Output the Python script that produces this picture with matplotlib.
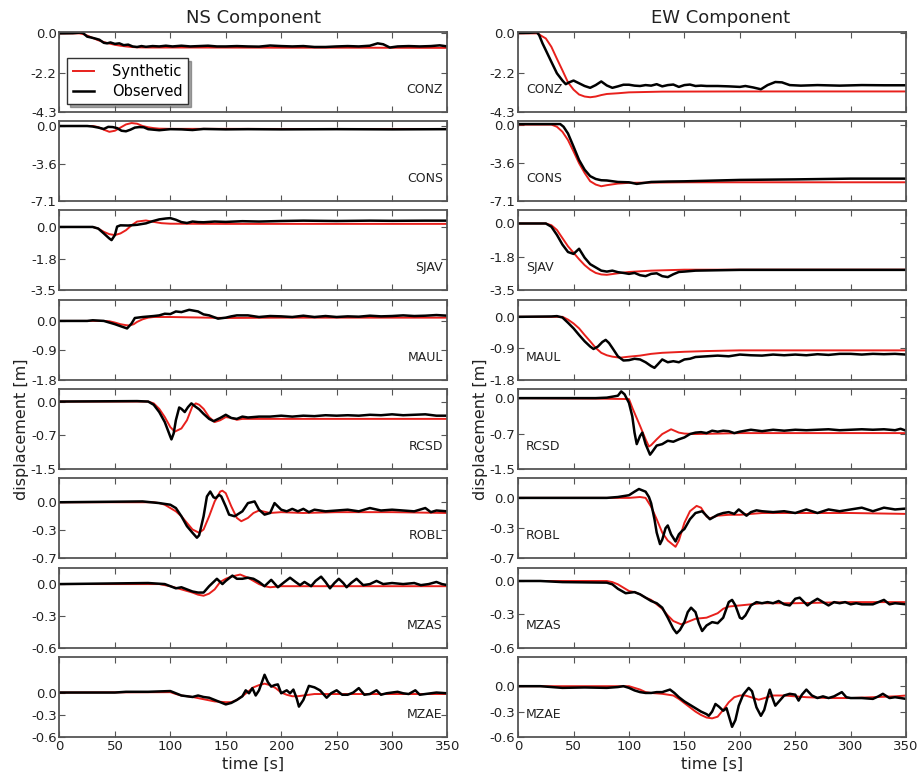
import matplotlib
matplotlib.use('Agg')
import matplotlib.pyplot as plt
from matplotlib.ticker import FormatStrFormatter

stations = ['CONZ', 'CONS', 'SJAV', 'MAUL', 'RCSD', 'ROBL', 'MZAS', 'MZAE']
components = ['NS Component', 'EW Component']
y_bottom = [-4.32, -7.12, -3.52, -1.8, -1.48, -0.68, -0.6, -0.6]
y_top_ns = [0.09, 0.47, 0.92, 0.65, 0.275, 0.29, 0.155, 0.48]
y_top_ew = [0.09, 0.33, 0.69, 0.49, 0.19, 0.22, 0.12, 0.345]
x_ticks = [0, 50, 100, 150, 200, 250, 300, 350]

# (time [s], displacement [m]) pairs
conz_ns_syn = [(0,0),(18,0),(22,-0.05),(25,-0.12),(30,-0.25),(35,-0.38),(40,-0.48),(45,-0.56),(50,-0.63),(55,-0.68),(60,-0.72),(65,-0.75),(70,-0.77),(80,-0.78),(120,-0.78),(200,-0.79),(260,-0.79),(350,-0.8)]
conz_ns_obs = [(0,0),(12,0.01),(18,0.04),(21,0.03),(25,-0.18),(28,-0.22),(32,-0.28),(36,-0.35),(40,-0.52),(43,-0.55),(46,-0.5),(50,-0.58),(54,-0.55),(58,-0.65),(62,-0.62),(66,-0.72),(70,-0.75),(74,-0.7),(78,-0.74),(84,-0.7),(90,-0.72),(96,-0.68),(102,-0.72),(110,-0.68),(118,-0.72),(126,-0.7),(134,-0.68),(142,-0.72),(150,-0.72),(160,-0.7),(170,-0.72),(180,-0.73),(190,-0.67),(200,-0.7),(210,-0.72),(220,-0.7),(230,-0.75),(240,-0.75),(250,-0.72),(260,-0.7),(270,-0.72),(280,-0.68),(287,-0.55),(292,-0.6),(298,-0.78),(305,-0.72),(315,-0.7),(325,-0.72),(335,-0.7),(343,-0.66),(350,-0.72)]
conz_ew_syn = [(0,0),(18,0),(20,-0.1),(25,-0.28),(30,-0.74),(35,-1.4),(40,-2.04),(45,-2.7),(50,-3.1),(55,-3.37),(60,-3.48),(65,-3.52),(70,-3.48),(75,-3.4),(80,-3.34),(90,-3.3),(100,-3.25),(130,-3.21),(200,-3.2),(350,-3.2)]
conz_ew_obs = [(0,0.02),(10,0.03),(15,0.05),(17,0.06),(19,-0.1),(22,-0.55),(25,-0.93),(30,-1.57),(35,-2.2),(40,-2.6),(43,-2.8),(46,-2.7),(50,-2.6),(55,-2.75),(60,-2.9),(65,-3.0),(70,-2.85),(75,-2.65),(80,-2.87),(85,-3.0),(90,-2.92),(95,-2.83),(100,-2.83),(105,-2.88),(110,-2.9),(115,-2.85),(120,-2.88),(125,-2.8),(130,-2.92),(135,-2.85),(140,-2.82),(145,-2.95),(150,-2.85),(155,-2.82),(160,-2.9),(165,-2.88),(170,-2.9),(180,-2.9),(190,-2.92),(200,-2.95),(205,-2.9),(212,-2.98),(219,-3.08),(225,-2.85),(232,-2.68),(238,-2.7),(245,-2.85),(255,-2.88),(270,-2.85),(290,-2.88),(310,-2.85),(330,-2.86),(350,-2.86)]

cons_ns_syn = [(0,0),(30,0),(35,-0.1),(40,-0.35),(45,-0.55),(50,-0.45),(55,-0.15),(60,0.15),(65,0.28),(70,0.22),(75,0.0),(80,-0.12),(85,-0.2),(90,-0.25),(100,-0.27),(150,-0.27),(200,-0.28),(350,-0.28)]
cons_ns_obs = [(0,0),(25,0),(30,-0.05),(35,-0.15),(40,-0.28),(44,-0.08),(48,-0.1),(52,-0.2),(56,-0.45),(60,-0.5),(64,-0.35),(68,-0.15),(72,-0.1),(76,-0.12),(80,-0.3),(85,-0.35),(90,-0.4),(95,-0.35),(100,-0.3),(110,-0.32),(120,-0.38),(130,-0.28),(140,-0.3),(150,-0.32),(170,-0.3),(200,-0.32),(250,-0.3),(300,-0.32),(350,-0.3)]
cons_ew_syn = [(0,0),(30,0),(35,-0.2),(40,-0.67),(45,-1.44),(50,-2.5),(55,-3.6),(60,-4.5),(65,-5.27),(70,-5.58),(75,-5.74),(80,-5.64),(90,-5.49),(100,-5.42),(150,-5.37),(350,-5.37)]
cons_ew_obs = [(0,0.05),(38,0.05),(41,-0.2),(45,-0.83),(50,-2.05),(55,-3.3),(60,-4.2),(65,-4.8),(70,-5.06),(75,-5.18),(80,-5.2),(90,-5.34),(100,-5.37),(107,-5.52),(112,-5.45),(120,-5.34),(135,-5.3),(150,-5.28),(200,-5.15),(250,-5.1),(300,-5.03),(350,-5.03)]

sjav_ns_syn = [(0,0),(30,0),(35,-0.09),(40,-0.27),(45,-0.4),(50,-0.45),(55,-0.36),(60,-0.18),(65,0.09),(70,0.3),(78,0.36),(85,0.28),(92,0.21),(100,0.18),(150,0.17),(250,0.17),(350,0.17)]
sjav_ns_obs = [(0,0),(30,0),(35,-0.09),(40,-0.36),(45,-0.64),(47,-0.73),(50,-0.45),(52,0.02),(55,0.09),(62,0.08),(70,0.12),(78,0.2),(84,0.32),(90,0.42),(96,0.47),(100,0.49),(105,0.4),(110,0.27),(115,0.22),(120,0.3),(125,0.27),(130,0.26),(140,0.3),(150,0.28),(165,0.32),(180,0.3),(200,0.33),(220,0.35),(250,0.33),(280,0.35),(300,0.34),(330,0.35),(350,0.35)]
sjav_ew_syn = [(0,0),(25,0),(30,-0.09),(35,-0.34),(40,-0.77),(45,-1.2),(50,-1.54),(55,-1.88),(60,-2.19),(65,-2.43),(70,-2.6),(75,-2.68),(80,-2.7),(90,-2.62),(100,-2.55),(120,-2.48),(150,-2.43),(350,-2.43)]
sjav_ew_obs = [(0,0),(25,0),(30,-0.17),(35,-0.6),(40,-1.11),(45,-1.5),(50,-1.6),(55,-1.33),(60,-1.8),(65,-2.14),(70,-2.31),(75,-2.48),(80,-2.53),(85,-2.48),(90,-2.56),(95,-2.6),(100,-2.65),(105,-2.6),(110,-2.72),(115,-2.77),(120,-2.65),(125,-2.62),(130,-2.77),(135,-2.82),(140,-2.67),(145,-2.55),(150,-2.53),(160,-2.48),(180,-2.46),(200,-2.44),(250,-2.44),(300,-2.44),(350,-2.44)]

maul_ns_syn = [(0,0),(40,0),(45,-0.01),(50,-0.05),(55,-0.1),(60,-0.13),(63,-0.14),(67,-0.1),(70,-0.03),(75,0.05),(80,0.1),(85,0.12),(100,0.12),(150,0.09),(200,0.1),(350,0.1)]
maul_ns_obs = [(0,0),(25,0),(30,0.02),(40,0.0),(45,-0.05),(50,-0.1),(55,-0.16),(61,-0.23),(65,-0.08),(68,0.09),(75,0.12),(85,0.15),(90,0.17),(95,0.22),(100,0.21),(105,0.29),(110,0.27),(117,0.34),(125,0.29),(130,0.2),(135,0.17),(143,0.07),(150,0.1),(155,0.14),(160,0.17),(170,0.17),(180,0.12),(190,0.15),(200,0.14),(210,0.12),(220,0.16),(230,0.12),(240,0.15),(250,0.12),(260,0.14),(270,0.13),(280,0.16),(290,0.14),(300,0.15),(310,0.17),(320,0.15),(330,0.16),(340,0.18),(350,0.16)]
maul_ew_syn = [(0,0),(40,0),(45,-0.08),(50,-0.19),(55,-0.33),(60,-0.52),(65,-0.7),(70,-0.89),(75,-1.03),(80,-1.1),(85,-1.14),(92,-1.17),(100,-1.14),(110,-1.11),(120,-1.06),(130,-1.03),(150,-1.0),(170,-0.98),(200,-0.96),(350,-0.96)]
maul_ew_obs = [(0,0),(30,0.01),(35,0.02),(40,-0.02),(45,-0.17),(50,-0.33),(55,-0.52),(60,-0.7),(65,-0.85),(68,-0.92),(72,-0.85),(76,-0.72),(79,-0.66),(82,-0.75),(85,-0.89),(90,-1.13),(95,-1.25),(100,-1.24),(105,-1.2),(110,-1.22),(115,-1.3),(120,-1.41),(123,-1.46),(126,-1.36),(130,-1.22),(135,-1.3),(140,-1.27),(145,-1.3),(150,-1.22),(155,-1.2),(160,-1.15),(170,-1.13),(180,-1.11),(190,-1.13),(200,-1.08),(210,-1.1),(220,-1.11),(230,-1.08),(240,-1.1),(250,-1.08),(260,-1.1),(270,-1.07),(280,-1.09),(290,-1.06),(300,-1.06),(310,-1.08),(320,-1.06),(330,-1.07),(340,-1.06),(350,-1.08)]

rcsd_ns_syn = [(0,0),(80,0),(85,-0.04),(90,-0.16),(95,-0.34),(100,-0.56),(104,-0.66),(110,-0.59),(115,-0.41),(120,-0.1),(123,-0.04),(126,-0.07),(130,-0.16),(135,-0.34),(140,-0.45),(145,-0.41),(150,-0.34),(155,-0.36),(160,-0.4),(165,-0.38),(200,-0.38),(350,-0.38)]
rcsd_ns_obs = [(0,0),(70,0.01),(80,0.0),(85,-0.07),(90,-0.23),(95,-0.45),(100,-0.77),(101,-0.83),(103,-0.7),(105,-0.41),(108,-0.13),(110,-0.16),(113,-0.23),(116,-0.12),(119,-0.04),(122,-0.1),(126,-0.17),(130,-0.27),(135,-0.38),(139,-0.43),(145,-0.36),(150,-0.29),(155,-0.36),(160,-0.38),(165,-0.33),(170,-0.35),(180,-0.33),(190,-0.33),(200,-0.31),(210,-0.33),(220,-0.31),(230,-0.32),(240,-0.3),(250,-0.31),(260,-0.3),(270,-0.31),(280,-0.29),(290,-0.3),(300,-0.28),(310,-0.3),(320,-0.29),(330,-0.28),(340,-0.31),(350,-0.31)]
rcsd_ew_syn = [(0,0),(70,-0.01),(100,-0.02),(103,-0.2),(105,-0.31),(110,-0.58),(115,-0.86),(118,-1.01),(120,-0.98),(125,-0.86),(130,-0.75),(138,-0.65),(145,-0.72),(150,-0.74),(160,-0.75),(200,-0.73),(350,-0.73)]
rcsd_ew_obs = [(0,0),(70,0),(80,0.01),(90,0.05),(93,0.14),(96,0.08),(100,-0.1),(103,-0.38),(105,-0.72),(107,-0.96),(110,-0.79),(112,-0.72),(115,-0.96),(119,-1.18),(121,-1.12),(125,-0.99),(130,-0.96),(135,-0.89),(140,-0.91),(145,-0.86),(150,-0.82),(155,-0.75),(160,-0.72),(165,-0.71),(170,-0.73),(175,-0.68),(180,-0.7),(185,-0.68),(190,-0.69),(195,-0.73),(200,-0.7),(210,-0.66),(220,-0.69),(230,-0.66),(240,-0.68),(250,-0.66),(260,-0.67),(270,-0.66),(280,-0.65),(290,-0.67),(300,-0.66),(310,-0.65),(320,-0.66),(330,-0.65),(340,-0.67),(345,-0.64),(350,-0.68)]

robl_ns_syn = [(0,0),(85,0),(90,-0.01),(95,-0.03),(100,-0.07),(105,-0.11),(110,-0.17),(115,-0.25),(120,-0.33),(126,-0.37),(130,-0.33),(135,-0.17),(140,0.01),(145,0.13),(147,0.14),(150,0.11),(155,-0.05),(160,-0.19),(164,-0.23),(170,-0.19),(175,-0.13),(180,-0.1),(190,-0.13),(200,-0.12),(220,-0.13),(250,-0.12),(300,-0.12),(350,-0.13)]
robl_ns_obs = [(0,0),(75,0.01),(90,-0.01),(100,-0.03),(105,-0.07),(110,-0.17),(115,-0.29),(120,-0.37),(124,-0.43),(126,-0.4),(130,-0.17),(133,0.07),(136,0.13),(139,0.06),(141,0.05),(144,0.09),(146,0.07),(150,-0.05),(153,-0.15),(158,-0.17),(165,-0.11),(170,-0.01),(176,0.01),(180,-0.09),(185,-0.15),(190,-0.13),(194,-0.01),(200,-0.09),(205,-0.11),(210,-0.08),(215,-0.11),(220,-0.08),(225,-0.12),(230,-0.09),(240,-0.11),(250,-0.1),(260,-0.09),(270,-0.11),(280,-0.07),(290,-0.1),(300,-0.09),(310,-0.1),(320,-0.11),(330,-0.07),(335,-0.12),(340,-0.1),(350,-0.11)]
robl_ew_syn = [(0,0),(100,0),(110,0.01),(115,0.0),(120,-0.1),(125,-0.24),(130,-0.39),(135,-0.48),(142,-0.55),(145,-0.48),(150,-0.28),(155,-0.15),(161,-0.09),(165,-0.11),(170,-0.21),(173,-0.23),(180,-0.2),(190,-0.19),(200,-0.19),(220,-0.17),(250,-0.17),(300,-0.17),(350,-0.18)]
robl_ew_obs = [(0,0),(80,0),(90,0.01),(95,0.02),(100,0.03),(105,0.07),(109,0.1),(115,0.07),(118,0.01),(120,-0.06),(123,-0.24),(125,-0.39),(128,-0.52),(130,-0.47),(133,-0.34),(135,-0.31),(138,-0.41),(142,-0.49),(145,-0.41),(148,-0.37),(150,-0.35),(155,-0.24),(160,-0.17),(166,-0.15),(173,-0.24),(180,-0.19),(185,-0.17),(190,-0.16),(195,-0.18),(199,-0.13),(206,-0.2),(210,-0.16),(215,-0.14),(220,-0.15),(230,-0.16),(240,-0.15),(250,-0.17),(260,-0.13),(270,-0.17),(280,-0.13),(290,-0.15),(300,-0.13),(310,-0.11),(320,-0.15),(330,-0.11),(340,-0.13),(350,-0.12)]

mzas_ns_syn = [(0,0),(90,0),(95,-0.01),(100,-0.02),(110,-0.05),(120,-0.08),(125,-0.1),(130,-0.11),(135,-0.09),(140,-0.05),(145,0.02),(150,0.05),(155,0.07),(163,0.09),(170,0.06),(175,0.03),(180,0.0),(185,-0.02),(190,-0.03),(200,-0.02),(350,-0.02)]
mzas_ns_obs = [(0,0),(80,0.01),(95,0.0),(100,-0.02),(105,-0.04),(110,-0.03),(115,-0.05),(120,-0.07),(125,-0.08),(130,-0.08),(135,-0.02),(142,0.05),(147,0.0),(150,0.03),(156,0.08),(160,0.05),(165,0.05),(170,0.06),(175,0.05),(180,0.02),(185,-0.02),(191,0.04),(197,-0.03),(203,0.02),(208,0.06),(213,0.02),(217,-0.01),(221,0.02),(227,-0.02),(231,0.03),(236,0.07),(240,0.02),(244,-0.04),(248,0.01),(252,0.05),(256,0.01),(259,-0.03),(263,0.01),(268,0.05),(274,-0.01),(280,0.0),(286,0.03),(292,0.0),(300,0.01),(310,0.0),(320,0.01),(326,-0.01),(333,0.0),(340,0.02),(345,0.0),(350,-0.01)]
mzas_ew_syn = [(0,0),(80,0),(85,-0.01),(90,-0.03),(95,-0.06),(100,-0.09),(105,-0.1),(110,-0.12),(115,-0.15),(120,-0.17),(125,-0.21),(130,-0.25),(135,-0.31),(140,-0.36),(147,-0.39),(150,-0.38),(155,-0.36),(160,-0.34),(170,-0.33),(175,-0.31),(180,-0.29),(185,-0.25),(190,-0.23),(200,-0.22),(220,-0.2),(250,-0.2),(300,-0.19),(350,-0.19)]
mzas_ew_obs = [(0,0),(20,0),(40,-0.01),(80,-0.015),(85,-0.03),(90,-0.07),(97,-0.11),(105,-0.1),(110,-0.12),(115,-0.15),(120,-0.18),(125,-0.2),(130,-0.24),(135,-0.33),(140,-0.43),(143,-0.47),(146,-0.44),(150,-0.37),(153,-0.28),(156,-0.24),(160,-0.28),(163,-0.38),(166,-0.45),(170,-0.4),(175,-0.37),(180,-0.38),(185,-0.33),(190,-0.19),(193,-0.17),(196,-0.22),(200,-0.33),(202,-0.34),(205,-0.31),(210,-0.22),(215,-0.19),(220,-0.2),(225,-0.19),(230,-0.2),(235,-0.18),(240,-0.21),(245,-0.22),(250,-0.16),(254,-0.15),(258,-0.19),(261,-0.22),(265,-0.19),(270,-0.16),(275,-0.19),(280,-0.22),(285,-0.19),(290,-0.2),(295,-0.19),(300,-0.21),(305,-0.2),(310,-0.21),(320,-0.21),(325,-0.19),(330,-0.17),(335,-0.21),(340,-0.2),(350,-0.21)]

mzae_ns_syn = [(0,0),(100,0.005),(105,-0.02),(110,-0.04),(120,-0.06),(130,-0.09),(140,-0.12),(150,-0.13),(155,-0.13),(160,-0.1),(165,-0.05),(170,0.01),(175,0.07),(180,0.1),(185,0.12),(190,0.1),(195,0.06),(200,0.0),(205,-0.03),(210,-0.05),(215,-0.05),(220,-0.04),(230,-0.02),(250,-0.02),(350,-0.02)]
mzae_ns_obs = [(0,0),(50,0.0),(60,0.01),(80,0.01),(100,0.02),(105,-0.01),(110,-0.04),(115,-0.05),(120,-0.06),(125,-0.04),(130,-0.06),(135,-0.07),(140,-0.1),(145,-0.13),(150,-0.16),(155,-0.14),(160,-0.1),(165,-0.05),(168,0.03),(171,-0.01),(174,0.06),(177,-0.04),(180,0.03),(185,0.24),(188,0.14),(191,0.08),(194,0.1),(197,0.11),(200,-0.01),(205,0.03),(208,-0.01),(211,0.04),(214,-0.08),(216,-0.19),(220,-0.1),(225,0.09),(230,0.07),(235,0.03),(241,-0.07),(245,-0.01),(250,0.03),(255,-0.03),(260,-0.03),(265,0.0),(270,0.06),(275,-0.03),(280,-0.02),(286,0.03),(290,-0.03),(295,-0.01),(300,0.0),(305,0.01),(310,-0.01),(315,-0.02),(321,0.03),(325,-0.03),(330,-0.02),(340,0.0),(350,-0.01)]
mzae_ew_syn = [(0,0),(100,0),(105,-0.02),(110,-0.04),(115,-0.07),(120,-0.08),(130,-0.09),(140,-0.11),(145,-0.15),(150,-0.2),(155,-0.25),(160,-0.3),(165,-0.34),(170,-0.37),(175,-0.38),(180,-0.36),(185,-0.28),(190,-0.19),(195,-0.13),(200,-0.11),(205,-0.11),(210,-0.13),(217,-0.16),(225,-0.13),(230,-0.11),(240,-0.11),(250,-0.12),(260,-0.13),(280,-0.14),(300,-0.14),(320,-0.13),(340,-0.12),(350,-0.11)]
mzae_ew_obs = [(0,0),(20,0),(40,-0.02),(60,-0.015),(80,-0.02),(90,-0.01),(95,0.0),(100,-0.02),(105,-0.05),(110,-0.07),(115,-0.08),(120,-0.08),(125,-0.07),(130,-0.07),(137,-0.04),(141,-0.08),(145,-0.13),(150,-0.18),(155,-0.22),(160,-0.26),(165,-0.3),(170,-0.33),(172,-0.35),(175,-0.3),(178,-0.21),(181,-0.24),(185,-0.29),(188,-0.26),(193,-0.48),(196,-0.4),(199,-0.23),(203,-0.1),(208,-0.02),(211,-0.06),(215,-0.25),(219,-0.35),(222,-0.28),(225,-0.13),(227,-0.04),(230,-0.16),(232,-0.23),(236,-0.17),(240,-0.11),(245,-0.09),(250,-0.1),(253,-0.17),(256,-0.1),(260,-0.04),(265,-0.11),(270,-0.14),(275,-0.12),(280,-0.14),(285,-0.12),(292,-0.07),(296,-0.13),(300,-0.14),(310,-0.14),(320,-0.15),(325,-0.12),(329,-0.09),(335,-0.14),(340,-0.13),(345,-0.14),(350,-0.15)]

ns_syn = [conz_ns_syn, cons_ns_syn, sjav_ns_syn, maul_ns_syn, rcsd_ns_syn, robl_ns_syn, mzas_ns_syn, mzae_ns_syn]
ns_obs = [conz_ns_obs, cons_ns_obs, sjav_ns_obs, maul_ns_obs, rcsd_ns_obs, robl_ns_obs, mzas_ns_obs, mzae_ns_obs]
ew_syn = [conz_ew_syn, cons_ew_syn, sjav_ew_syn, maul_ew_syn, rcsd_ew_syn, robl_ew_syn, mzas_ew_syn, mzae_ew_syn]
ew_obs = [conz_ew_obs, cons_ew_obs, sjav_ew_obs, maul_ew_obs, rcsd_ew_obs, robl_ew_obs, mzas_ew_obs, mzae_ew_obs]

plt.rcParams['font.family'] = ['DejaVu Sans']
fig, axes = plt.subplots(8, 2, figsize=(9.19, 7.74), dpi=100)
fig.subplots_adjust(left=0.0647, right=0.986, top=0.959, bottom=0.0478,
                    wspace=0.182, hspace=0.116)

SPINE = '#555555'
TXT = '#222222'

for i, st in enumerate(stations):
    for j in range(2):
        ax = axes[i, j]
        syn = (ns_syn if j == 0 else ew_syn)[i]
        obs = (ns_obs if j == 0 else ew_obs)[i]
        ts, vs = zip(*syn)
        to, vo = zip(*obs)
        ax.plot(ts, vs, color='#e8201c', lw=1.4, label='Synthetic')
        ax.plot(to, vo, color='black', lw=1.8, label='Observed')
        ax.set_xlim(0, 350)
        top = (y_top_ns if j == 0 else y_top_ew)[i]
        ax.set_ylim(y_bottom[i], top)
        ax.set_yticks([y_bottom[i], y_bottom[i] / 2, 0])
        ax.yaxis.set_major_formatter(FormatStrFormatter('%.1f'))
        ax.set_xticks(x_ticks)
        ax.tick_params(direction='in', top=True, right=True, length=4,
                       width=0.8, color=SPINE, labelsize=9.5, labelcolor=TXT, pad=2)
        if i < 7:
            ax.tick_params(labelbottom=False)
        for sp in ax.spines.values():
            sp.set_color(SPINE)
            sp.set_linewidth(1.3)
        if j == 0:
            ax.text(0.988, 0.28, st, transform=ax.transAxes, ha='right',
                    va='center', fontsize=9, color=TXT)
        else:
            ax.text(0.02, 0.28, st, transform=ax.transAxes, ha='left',
                    va='center', fontsize=9, color=TXT)

axes[0, 0].set_title(components[0], fontsize=13, color=TXT, pad=6.5)
axes[0, 1].set_title(components[1], fontsize=13, color=TXT, pad=6.5, x=0.523)

for j in range(2):
    axes[7, j].set_xlabel('time [s]', fontsize=11.5, color=TXT, labelpad=3)
    axes[4, j].set_ylabel('displacement [m]', fontsize=11.5, color=TXT)
    axes[4, j].yaxis.set_label_coords(-0.078, 0.5)

leg = axes[0, 0].legend(loc='lower left', fontsize=10.5, shadow=True,
                        fancybox=False, handlelength=1.5, handletextpad=1.2,
                        borderpad=0.4, labelspacing=0.3, borderaxespad=0.5)
leg.get_frame().set_edgecolor('#333333')
leg.get_frame().set_linewidth(1.0)

fig.savefig('out.png', dpi=100)
